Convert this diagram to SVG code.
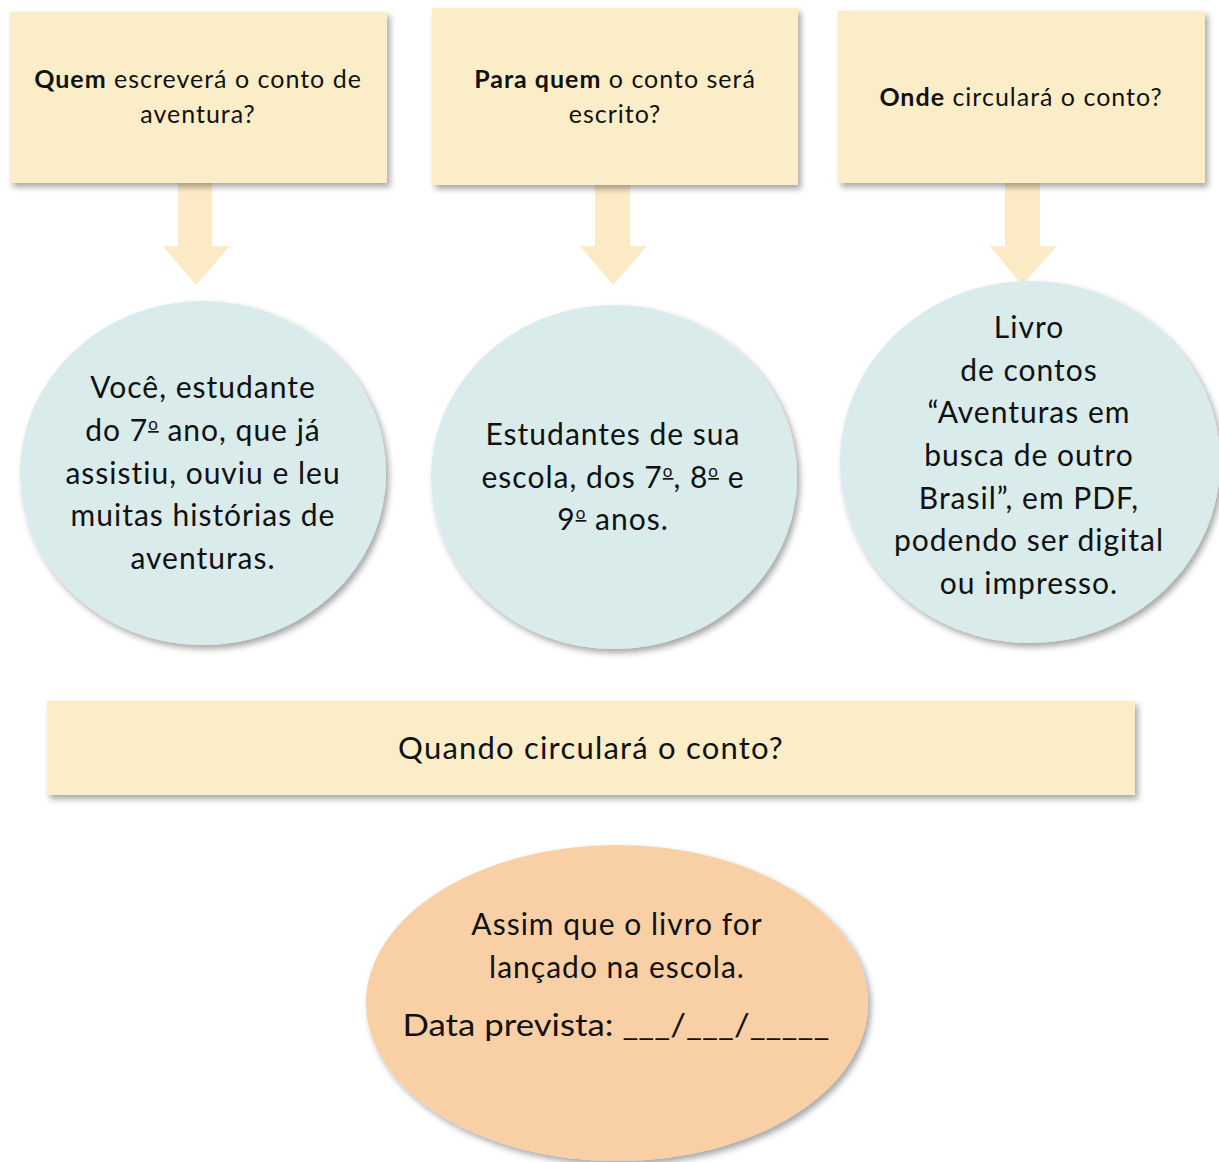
<svg xmlns="http://www.w3.org/2000/svg" width="1219" height="1162" viewBox="0 0 1219 1162">
<defs>
<filter id="sh" x="-10%" y="-10%" width="125%" height="130%">
<feDropShadow dx="3" dy="4" stdDeviation="3" flood-color="#000" flood-opacity="0.35"/>
</filter>
<style>
text{font-family:Lato,"Open Sans","Liberation Sans",sans-serif;fill:#111;text-anchor:middle}
.q{font-size:25px;letter-spacing:1px}
.c{font-size:30px;letter-spacing:1px}
.d{font-size:30px}
.bar{font-size:31px;letter-spacing:1.2px}
.o{font-size:17px;text-decoration:underline}
.box{fill:#FCEDC9;filter:url(#sh)}
.circ{fill:#D9EBEB;filter:url(#sh)}
.egg{fill:#F9D0A5;filter:url(#sh)}
.arr{fill:#FCEAC4}
</style>
</defs>
<rect width="1219" height="1162" fill="#fff"/>
<g id="connectors">
<polygon class="arr" points="178,183 212,183 212,246 230,246 196,285 163,246 178,246"/>
<polygon class="arr" points="595,185 630,185 630,246 647,246 613,285 580,246 595,246"/>
<polygon class="arr" points="1005,183 1040,183 1040,246 1057,246 1022,285 990,246 1005,246"/>
</g>
<g id="box-quem">
<rect class="box" x="10" y="12" width="377" height="171"/>
<text class="q" x="198" y="88"><tspan font-weight="bold">Quem</tspan> escreverá o conto de</text>
<text class="q" x="198" y="123">aventura?</text>
</g>
<g id="box-para-quem">
<rect class="box" x="432" y="8" width="366" height="177"/>
<text class="q" x="615" y="88"><tspan font-weight="bold">Para quem</tspan> o conto será</text>
<text class="q" x="615" y="123">escrito?</text>
</g>
<g id="box-onde">
<rect class="box" x="838" y="11" width="367" height="172"/>
<text class="q" x="1021" y="106"><tspan font-weight="bold">Onde</tspan> circulará o conto?</text>
</g>
<g id="circle-voce">
<ellipse class="circ" cx="203" cy="473" rx="183" ry="172"/>
<text class="c" x="203" y="398">Você, estudante</text>
<text class="c" x="203" y="441">do 7<tspan class="o" baseline-shift="11">o</tspan> ano, que já</text>
<text class="c" x="203" y="484">assistiu, ouviu e leu</text>
<text class="c" x="203" y="526">muitas histórias de</text>
<text class="c" x="203" y="569">aventuras.</text>
</g>
<g id="circle-estudantes">
<ellipse class="circ" cx="614" cy="477" rx="183" ry="172"/>
<text class="c" x="613" y="445">Estudantes de sua</text>
<text class="c" x="613" y="488">escola, dos 7<tspan class="o" baseline-shift="11">o</tspan>, 8<tspan class="o" baseline-shift="11">o</tspan> e</text>
<text class="c" x="613" y="530">9<tspan class="o" baseline-shift="11">o</tspan> anos.</text>
</g>
<g id="circle-livro">
<ellipse class="circ" cx="1030" cy="462" rx="190" ry="181"/>
<text class="c" x="1029" y="338">Livro</text>
<text class="c" x="1029" y="381">de contos</text>
<text class="c" x="1029" y="423">“Aventuras em</text>
<text class="c" x="1029" y="466">busca de outro</text>
<text class="c" x="1029" y="509">Brasil”, em PDF,</text>
<text class="c" x="1029" y="551">podendo ser digital</text>
<text class="c" x="1029" y="594">ou impresso.</text>
</g>
<g id="bar-quando">
<rect class="box" x="47" y="701" width="1088" height="94"/>
<text class="bar" x="591" y="759">Quando circulará o conto?</text>
</g>
<g id="ellipse-assim">
<ellipse class="egg" cx="617" cy="1003" rx="251" ry="158"/>
<text class="c" x="617" y="935">Assim que o livro for</text>
<text class="c" x="617" y="978">lançado na escola.</text>
<text class="d" x="616" y="1036" textLength="427" lengthAdjust="spacingAndGlyphs">Data prevista: ___/___/_____</text>
</g>
</svg>
